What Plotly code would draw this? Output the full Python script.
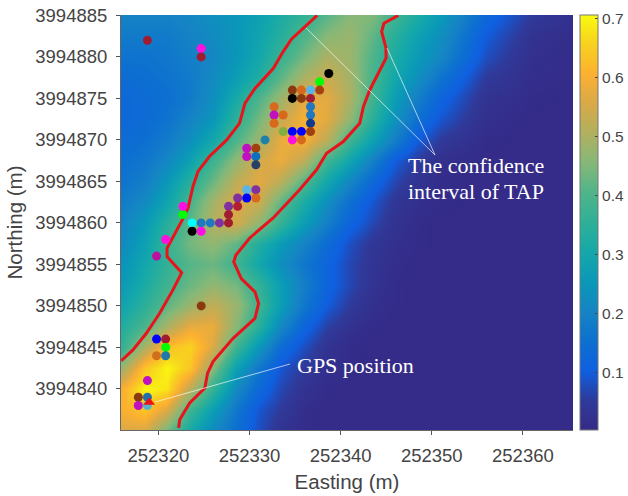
import plotly.graph_objects as go

easting = [252316, 252318.5, 252321, 252323.5, 252326, 252328.5, 252331, 252333.5, 252336, 252338.5, 252341, 252343.5,
           252346, 252348.5, 252351, 252356, 252361, 252366]
northing = [3994835, 3994837.5, 3994840, 3994842.5, 3994845, 3994847.5, 3994850, 3994852.5, 3994855, 3994857.5, 3994860,
            3994862.5, 3994865, 3994867.5, 3994870, 3994872.5, 3994875, 3994877.5, 3994880, 3994882.5, 3994885]
tap = [
    [.56, .56, .44, .31, .22, .15, .08, .03, .01, .005, .005, .005, .005, .005, .005, .005, .005, .005],
    [.60, .64, .56, .38, .27, .17, .09, .05, .015, .005, .005, .005, .005, .005, .005, .005, .005, .005],
    [.60, .70, .68, .52, .36, .22, .13, .07, .03, .01, .005, .005, .005, .005, .005, .005, .005, .005],
    [.48, .64, .70, .64, .46, .28, .17, .09, .05, .02, .01, .005, .005, .005, .005, .005, .005, .005],
    [.36, .50, .63, .66, .56, .38, .25, .14, .08, .03, .01, .005, .005, .005, .005, .005, .005, .005],
    [.33, .40, .50, .58, .58, .46, .34, .21, .12, .06, .025, .01, .005, .005, .005, .005, .005, .005],
    [.29, .35, .42, .48, .53, .48, .38, .27, .17, .10, .05, .02, .01, .005, .005, .005, .005, .005],
    [.26, .32, .38, .43, .47, .44, .36, .27, .19, .12, .07, .03, .01, .005, .005, .005, .005, .005],
    [.24, .30, .36, .41, .43, .38, .30, .23, .17, .12, .07, .035, .015, .005, .005, .005, .005, .005],
    [.22, .28, .37, .44, .47, .42, .33, .26, .20, .14, .08, .04, .02, .01, .005, .005, .005, .005],
    [.20, .26, .34, .42, .51, .55, .47, .36, .27, .19, .12, .07, .03, .01, .005, .005, .005, .005],
    [.18, .22, .29, .39, .49, .56, .54, .42, .32, .23, .15, .09, .04, .02, .01, .005, .005, .005],
    [.16, .19, .25, .34, .43, .52, .57, .52, .41, .30, .21, .13, .07, .03, .01, .005, .005, .005],
    [.15, .17, .21, .28, .38, .47, .55, .58, .52, .38, .29, .19, .10, .05, .02, .005, .005, .005],
    [.14, .15, .18, .23, .30, .40, .48, .58, .60, .52, .38, .28, .19, .10, .05, .01, .005, .005],
    [.13, .14, .16, .20, .25, .35, .44, .53, .60, .57, .47, .34, .24, .15, .09, .02, .005, .005],
    [.13, .14, .15, .18, .23, .31, .40, .48, .57, .57, .50, .38, .27, .19, .12, .03, .01, .005],
    [.14, .15, .16, .18, .22, .27, .33, .42, .50, .54, .49, .39, .30, .23, .16, .05, .015, .01],
    [.16, .16, .17, .19, .21, .25, .30, .37, .44, .50, .48, .40, .32, .26, .21, .08, .02, .01],
    [.18, .18, .18, .20, .22, .25, .29, .34, .40, .46, .48, .42, .34, .28, .23, .10, .03, .01],
    [.20, .20, .20, .21, .23, .25, .28, .32, .36, .41, .46, .45, .38, .32, .26, .13, .05, .02],
]
parula = [[0, "#352a87"], [.07, "#2f3a9a"], [.143, "#0f5fe0"], [.214, "#0d70d0"], [.286, "#1584c4"],
          [.357, "#0a98b8"], [.429, "#14a8aa"], [.5, "#2fb096"], [.571, "#4fb48a"], [.643, "#85b878"],
          [.714, "#b0b060"], [.786, "#d8a948"], [.857, "#fcb030"], [.929, "#f8d020"], [1, "#f9fb0e"]]

left_e = [252337.43, 252336.26, 252334.6, 252333.7, 252332.6, 252330.6, 252329.5, 252328.9, 252327.5, 252325.6,
          252324.35, 252323.8, 252323.25, 252322.64, 252321.8, 252320.95, 252320.95, 252322.56, 252321.6, 252320.14,
          252318.68, 252317.21, 252315.93]
left_n = [3994885.0, 3994883.86, 3994882.13, 3994880.64, 3994878.6, 3994876.2, 3994874.4, 3994872.0, 3994870.0, 3994868.0,
          3994866.2, 3994864.4, 3994861.8, 3994860.4, 3994858.76, 3994856.95, 3994855.94, 3994854.0, 3994851.93, 3994849.12,
          3994846.7, 3994844.7, 3994843.4]
right_e = [252346.33, 252344.76, 252344.5, 252344.98, 252344.98, 252344.13, 252343.2, 252342.5, 252342.1, 252340.3,
           252338.46, 252337.36, 252335.5, 252332.6, 252330.0, 252328.5, 252328.27, 252329.1, 252330.6, 252331.0,
           252330.6, 252328.2, 252326.0, 252325.4, 252325.1, 252323.44, 252322.34, 252322.23]
right_n = [3994885.0, 3994884.06, 3994883.05, 3994881.05, 3994879.84, 3994878.03, 3994876.02, 3994874.0, 3994872.0, 3994869.8,
           3994868.4, 3994866.4, 3994864.0, 3994860.6, 3994858.16, 3994856.1, 3994855.3, 3994853.3, 3994851.7, 3994850.3,
           3994848.5, 3994846.1, 3994843.3, 3994841.9, 3994840.1, 3994838.3, 3994836.3, 3994835.3]

DR, MG, BK, BR, OR, LB, MB, PU, VI, BL, GR = ("#a01c30", "#ff10e0", "#000000", "#8b3a10", "#d8681c", "#5ab4e8",
                                             "#1f78c0", "#c010c0", "#8030a0", "#0000ff", "#00ff00")
gps_e = [252318.8, 252324.7, 252324.7, 252338.7, 252337.7, 252334.7, 252335.7, 252336.7, 252337.7, 252334.7, 252335.7, 252336.7,
         252336.7, 252332.7, 252332.7, 252333.7, 252336.7, 252332.7, 252336.7, 252333.7, 252334.7, 252335.7, 252336.7,
         252334.7, 252335.7, 252331.7, 252329.7, 252330.7, 252329.7, 252330.7, 252330.7, 252329.7, 252330.7, 252328.7,
         252329.7, 252330.7, 252327.7, 252328.7, 252327.7, 252323.7, 252324.7, 252325.7, 252326.7, 252327.7, 252323.7,
         252324.7, 252322.7, 252322.7, 252320.8, 252319.8, 252324.7, 252319.8, 252320.8, 252320.8, 252319.8, 252320.8,
         252318.8, 252317.8, 252318.8, 252317.8, 252318.8]
gps_n = [3994882, 3994881, 3994880, 3994878, 3994877, 3994876, 3994876, 3994876, 3994876, 3994875, 3994875, 3994875,
         3994874, 3994874, 3994873, 3994873, 3994873, 3994872, 3994872, 3994871, 3994871, 3994871, 3994871,
         3994870, 3994870, 3994870, 3994869, 3994869, 3994868, 3994868, 3994867, 3994864, 3994864, 3994863,
         3994863, 3994863, 3994862, 3994862, 3994861, 3994860, 3994860, 3994860, 3994860, 3994860, 3994859,
         3994859, 3994861, 3994862, 3994858, 3994856, 3994850, 3994846, 3994846, 3994845, 3994844, 3994844,
         3994841, 3994839, 3994839, 3994838, 3994838]
gps_c = [DR, MG, DR, BK, GR, BR, OR, LB, "#a84010", BK, BR, DR,
         MB, OR, PU, OR, MB, OR, "#103a90", "#80b040", BL, BL, "#a04010",
         MG, OR, "#1f80a8", PU, "#a04010", PU, "#1070c0", "#284068", LB, VI, VI,
         BL, OR, VI, "#b02030", DR, "#00ffff", MB, MB, VI, DR, BK,
         MG, GR, MG, MG, "#c010a0", BR, BL, DR, GR, "#d0701c", "#1f78a8",
         "#c010c0", BR, "#2070b0", "#c010c0", "#5ab4c8"]
truth_e = [252319.0]
truth_n = [3994838.4]

INK = "#444444"
fig = go.Figure()
fig.add_trace(go.Heatmap(x=easting, y=northing, z=tap, zsmooth="best", colorscale=parula, zmin=.003, zmax=.706,
                         colorbar=dict(xref="container", x=580 / 628, xanchor="left", xpad=0, ypad=0, thickness=18,
                                       len=1, y=0.5, tickvals=[.1, .2, .3, .4, .5, .6, .7], ticks="inside", ticklen=3,
                                       tickcolor="#444444", outlinecolor="#777777", outlinewidth=1,
                                       ticklabeloverflow="allow",
                                       tickfont=dict(family="Liberation Sans", size=15.5, color=INK))))
for xs, ys in ((left_e, left_n), (right_e, right_n)):
    fig.add_trace(go.Scatter(x=xs, y=ys, mode="lines", line=dict(color="#e8141c", width=3), hoverinfo="skip"))
fig.add_trace(go.Scatter(x=gps_e, y=gps_n, mode="markers", marker=dict(size=9, color=gps_c), hoverinfo="skip"))
fig.add_trace(go.Scatter(x=truth_e, y=truth_n, mode="markers", marker=dict(size=10, color="#f01010", symbol="triangle-up"), hoverinfo="skip"))

def px(x, y):
    return (x - 121) / 452, (430 - y) / 415

for a, b in (((306, 28), (435, 155)), ((387, 48), (435, 155)), ((155, 402), (290, 364))):
    x0, y0 = px(*a)
    x1, y1 = px(*b)
    fig.add_shape(type="line", xref="paper", yref="paper", x0=x0, y0=y0, x1=x1, y1=y1,
                  line=dict(color="rgba(255,255,255,0.65)", width=1))
for text, x, y in (("The confidence", 476, 165), ("interval of TAP", 476, 192), ("GPS position", 355, 365)):
    ax, ay = px(x, y)
    fig.add_annotation(xref="paper", yref="paper", x=ax, y=ay, text=text, showarrow=False, xanchor="center", yanchor="middle",
                       font=dict(family="Liberation Serif", size=22, color="white"))

axis = dict(showgrid=False, zeroline=False, showline=True, linecolor="#666666", linewidth=1, ticks="outside", ticklen=4,
            tickcolor="#555555", tickformat="d", ticklabelstandoff=5, ticklabeloverflow="allow",
            tickfont=dict(family="Liberation Sans", size=18.5, color=INK))
fig.update_layout(width=628, height=496, showlegend=False, paper_bgcolor="white", plot_bgcolor="white",
                  margin=dict(l=121, r=55, t=15, b=66, autoexpand=False),
                  xaxis=dict(axis, range=[252315.9, 252365.5], tickvals=[252320, 252330, 252340, 252350, 252360],
                             title=dict(text="Easting (m)", font=dict(family="Liberation Sans", size=20.5, color=INK), standoff=9)),
                  yaxis=dict(axis, range=[3994835.05, 3994885.05], tickvals=[3994840, 3994845, 3994850, 3994855, 3994860, 3994865, 3994870, 3994875, 3994880, 3994885],
                             title=dict(text="Northing (m)", font=dict(family="Liberation Sans", size=20.5, color=INK), standoff=7)))
fig.write_html("out.html", config={"displayModeBar": False},
               post_script="document.body.style.margin='0';document.body.style.overflow='hidden';")
